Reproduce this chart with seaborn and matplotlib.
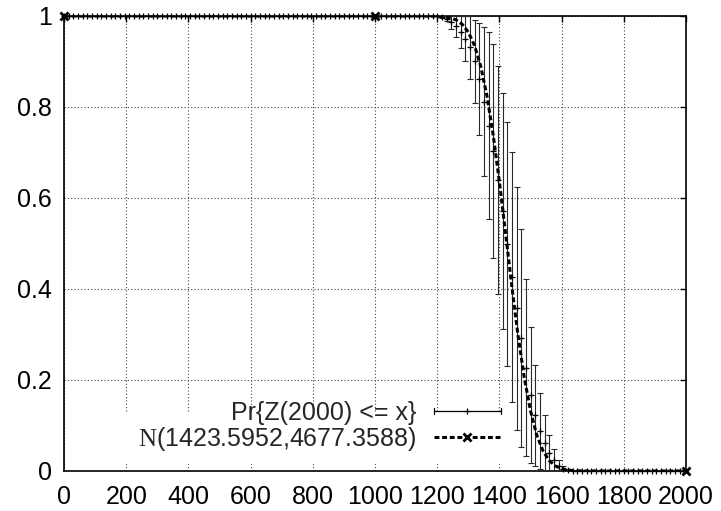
import matplotlib
matplotlib.use("Agg")
import matplotlib.pyplot as plt
import seaborn as sns
import pandas as pd
from matplotlib.lines import Line2D
from matplotlib.legend_handler import HandlerBase
from matplotlib.patches import Rectangle

# ---------------- data ----------------
emp_x = list(range(0, 2000, 15))            # sample points of Pr{Z(2000) <= x}
emp_trans_y = [0.998, 0.994, 0.986, 0.977, 0.965, 0.950, 0.931, 0.900,
               0.862, 0.812, 0.759, 0.703, 0.640, 0.571, 0.499, 0.426,
               0.358, 0.292, 0.227, 0.167, 0.122, 0.088, 0.062, 0.040,
               0.025, 0.012, 0.005, 0.002]          # x = 1215 .. 1620
emp_trans_err = [0.002, 0.006, 0.014, 0.023, 0.035, 0.050, 0.069, 0.091,
                 0.123, 0.164, 0.205, 0.235, 0.251, 0.259, 0.268, 0.274,
                 0.267, 0.239, 0.194, 0.149, 0.112, 0.084, 0.061, 0.040,
                 0.024, 0.012, 0.005, 0.002]
emp_y = [1.0] * 81 + emp_trans_y + [0.0] * 25
emp_err = [0.0] * 81 + emp_trans_err + [0.0] * 25

norm_x = list(range(0, 2001, 20))           # N(1423.5952, 4677.3588) curve
norm_trans = [0.99994, 0.9998, 0.9995, 0.9985, 0.9964, 0.9916, 0.982, 0.9646,
              0.935, 0.889, 0.824, 0.738, 0.635, 0.521, 0.405, 0.297, 0.205,
              0.132, 0.079, 0.0444, 0.023, 0.0111, 0.0049, 0.002, 0.0008,
              0.0003]                                 # x = 1160 .. 1660
norm_y = [1.0] * 58 + norm_trans + [0.0] * 17

x_ticks = [0, 200, 400, 600, 800, 1000, 1200, 1400, 1600, 1800, 2000]
y_ticks = [0, 0.2, 0.4, 0.6, 0.8, 1.0]
y_tick_labels = ["0", "0.2", "0.4", "0.6", "0.8", "1"]
label_emp = "Pr{Z(2000) <= x}"
label_norm = r"$\mathrm{N}$(1423.5952,4677.3588)"

# ---------------- style ----------------
sns.set_theme(style="white")
plt.rcParams["font.family"] = ["Liberation Sans", "DejaVu Sans"]
plt.rcParams["mathtext.fontset"] = "custom"
plt.rcParams["mathtext.rm"] = "Liberation Serif"
plt.rcParams["font.size"] = 18

fig = plt.figure(figsize=(7.21, 5.11), dpi=100)
ax = fig.add_axes([0.0888, 0.0783, 0.8627, 0.8904])

df = pd.DataFrame({"x": emp_x, "y": emp_y, "err": emp_err})
dfe = df[df["err"] > 0]

ax.errorbar(dfe["x"], dfe["y"], yerr=dfe["err"], fmt="none", ecolor="#2a2a2a",
            elinewidth=0.8, capsize=2.5, capthick=0.8, zorder=3)
sns.scatterplot(data=df, x="x", y="y", marker="+", color="black", s=24,
                linewidth=0.9, ax=ax, zorder=4, clip_on=False, legend=False)

dash = (0, (1.6, 0.9))
sns.lineplot(x=norm_x, y=norm_y, ax=ax, color="black", linewidth=2.2,
             linestyle=dash, zorder=5, legend=False)
ax.plot(norm_x[::50], norm_y[::50], linestyle="none", marker="x", color="black",
        markersize=6, markeredgewidth=2, zorder=6, clip_on=False)

# axes
ax.set_xlim(0, 2000)
ax.set_ylim(0, 1)
ax.set_xticks(x_ticks)
ax.set_xticklabels([str(t) for t in x_ticks])
ax.set_yticks(y_ticks)
ax.set_yticklabels(y_tick_labels)
ax.set_xlabel("")
ax.set_ylabel("")
ax.set_axisbelow(True)
ax.grid(True, color="#444444", linestyle=(0, (1, 2)), linewidth=0.8)
ax.tick_params(direction="in", length=4.5, width=1, top=True, right=True,
               labelsize=18, colors="black")
ax.tick_params(axis="y", pad=9)
ax.tick_params(axis="x", pad=10)
for s in ax.spines.values():
    s.set_color("black")
    s.set_linewidth(1.2)

# opaque key area
ax.add_patch(Rectangle((0.082, 0.0154), 0.627, 0.112, transform=ax.transAxes,
                       facecolor="white", edgecolor="none", zorder=1))


class ErrBarHandler(HandlerBase):
    def create_artists(self, legend, orig_handle, xdescent, ydescent, width,
                       height, fontsize, trans):
        x0 = -xdescent
        x1 = -xdescent + width
        yc = -ydescent + height / 2.0
        c = 2.3
        arts = [
            Line2D([x0, x1], [yc, yc], color="black", lw=0.9),
            Line2D([x0, x0], [yc - c, yc + c], color="black", lw=0.9),
            Line2D([x1, x1], [yc - c, yc + c], color="black", lw=0.9),
            Line2D([(x0 + x1) / 2], [yc], marker="+", markersize=5, mew=0.9,
                   color="black", linestyle="none"),
        ]
        for a in arts:
            a.set_transform(trans)
        return arts


h_emp = Line2D([], [], color="black")
h_norm = Line2D([], [], color="black", lw=2.2, linestyle=dash, marker="x",
                markersize=6, markeredgewidth=2)
ax.legend([h_emp, h_norm], [label_emp, label_norm],
          handler_map={h_emp: ErrBarHandler()}, loc="center right",
          bbox_to_anchor=(0.7026, 0.097), markerfirst=False, frameon=False,
          handlelength=2.7, handletextpad=0.7, labelspacing=0.0, borderpad=0,
          borderaxespad=0, fontsize=18, numpoints=1)

fig.savefig("out.png", dpi=100)
